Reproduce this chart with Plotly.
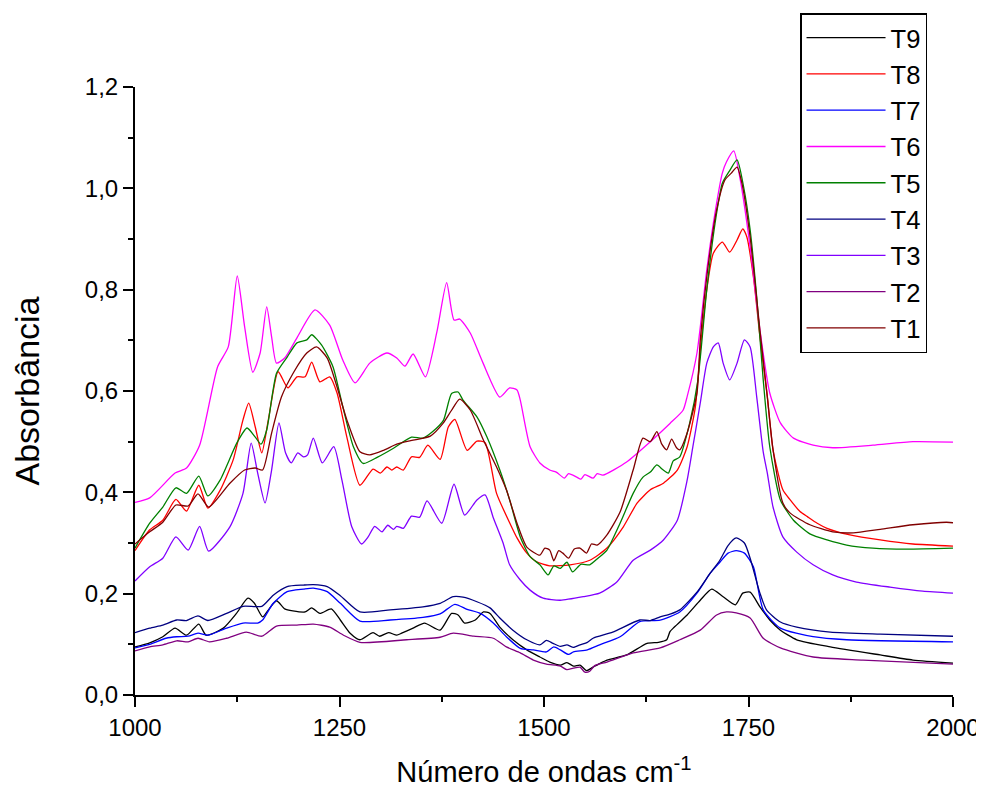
import plotly.graph_objects as go

# ---- data ----
names = ["T9", "T8", "T7", "T6", "T5", "T4", "T3", "T2", "T1"]
colors = ["#000000", "#FF0000", "#0000FF", "#FF00FF", "#008000",
          "#000080", "#8000FF", "#800080", "#800000"]

t9_x = [1000, 1018, 1034, 1049, 1063, 1078, 1087, 1108, 1124, 1138, 1146, 1156, 1164, 1173, 1183, 1193, 1208, 1216, 1226, 1240, 1251, 1263, 1275, 1291, 1299, 1310, 1320, 1326, 1340, 1354, 1373, 1387, 1395, 1403, 1416, 1426, 1434, 1446, 1462, 1479, 1495, 1507, 1520, 1528, 1536, 1544, 1552, 1560, 1568, 1577, 1601, 1626, 1640, 1650, 1654, 1658, 1675, 1691, 1705, 1719, 1734, 1743, 1752, 1764, 1776, 1789, 1809, 1850, 1911, 1951, 2000]
t9_y = [.095, .103, .115, .132, .118, .140, .118, .132, .161, .191, .181, .154, .170, .186, .170, .166, .164, .172, .161, .170, .148, .122, .109, .123, .116, .123, .118, .122, .132, .142, .128, .161, .158, .142, .148, .164, .161, .134, .109, .089, .075, .065, .059, .064, .057, .059, .048, .055, .062, .069, .079, .102, .104, .109, .125, .132, .158, .187, .209, .194, .178, .201, .203, .174, .148, .128, .109, .095, .079, .069, .063]

t8_x = [1000, 1018, 1034, 1050, 1063, 1078, 1089, 1104, 1120, 1132, 1139, 1147, 1155, 1163, 1175, 1187, 1198, 1208, 1216, 1226, 1238, 1247, 1259, 1275, 1291, 1300, 1308, 1314, 1320, 1328, 1338, 1348, 1358, 1373, 1383, 1391, 1406, 1418, 1428, 1442, 1458, 1467, 1479, 1491, 1507, 1532, 1556, 1577, 1597, 1614, 1630, 1646, 1663, 1675, 1685, 1691, 1699, 1707, 1718, 1727, 1736, 1743, 1748, 1756, 1764, 1773, 1780, 1792, 1801, 1813, 1822, 1834, 1846, 1874, 1911, 1951, 2000]
t8_y = [.285, .326, .345, .386, .363, .414, .369, .404, .464, .543, .576, .529, .478, .543, .638, .606, .628, .628, .657, .618, .628, .596, .509, .414, .446, .438, .450, .444, .450, .444, .470, .469, .493, .465, .529, .544, .483, .501, .498, .398, .340, .310, .280, .263, .255, .257, .266, .290, .332, .379, .405, .418, .444, .490, .568, .680, .800, .872, .894, .874, .898, .920, .904, .825, .707, .589, .484, .405, .385, .362, .352, .339, .329, .316, .306, .298, .294]

t7_x = [1000, 1018, 1038, 1051, 1065, 1077, 1089, 1112, 1132, 1150, 1156, 1169, 1186, 1206, 1218, 1235, 1251, 1275, 1312, 1352, 1373, 1391, 1406, 1422, 1438, 1454, 1471, 1487, 1503, 1512, 1520, 1530, 1536, 1553, 1568, 1593, 1617, 1642, 1666, 1687, 1703, 1715, 1725, 1735, 1745, 1756, 1768, 1789, 1829, 1870, 2000]
t7_y = [.093, .100, .112, .115, .116, .122, .118, .132, .142, .142, .148, .181, .204, .209, .211, .204, .181, .146, .148, .153, .160, .179, .169, .161, .142, .115, .092, .089, .085, .095, .089, .080, .085, .089, .099, .115, .145, .148, .164, .201, .240, .262, .280, .285, .280, .253, .168, .132, .115, .109, .105]

t6_x = [1000, 1018, 1049, 1063, 1079, 1101, 1114, 1125, 1134, 1144, 1153, 1161, 1167, 1173, 1183, 1198, 1220, 1238, 1254, 1269, 1287, 1308, 1320, 1330, 1340, 1355, 1369, 1381, 1390, 1397, 1410, 1425, 1446, 1458, 1467, 1471, 1483, 1495, 1507, 1515, 1525, 1530, 1540, 1545, 1550, 1560, 1565, 1572, 1601, 1630, 1654, 1670, 1675, 1687, 1699, 1709, 1718, 1723, 1732, 1740, 1752, 1764, 1776, 1789, 1805, 1829, 1853, 1902, 1951, 2000]
t6_y = [.380, .389, .438, .448, .493, .648, .687, .827, .727, .637, .675, .766, .707, .655, .665, .705, .760, .730, .661, .616, .655, .675, .665, .649, .673, .628, .716, .814, .740, .742, .714, .657, .588, .606, .602, .582, .490, .458, .444, .440, .428, .437, .430, .426, .435, .428, .437, .434, .460, .500, .536, .562, .589, .675, .839, .951, 1.030, 1.052, 1.074, 1.016, .884, .720, .596, .537, .507, .493, .488, .493, .500, .499]

t5_x = [1000, 1018, 1034, 1050, 1063, 1078, 1089, 1104, 1125, 1137, 1147, 1154, 1161, 1173, 1186, 1198, 1210, 1216, 1228, 1242, 1254, 1267, 1279, 1296, 1316, 1338, 1352, 1364, 1377, 1387, 1395, 1401, 1418, 1430, 1446, 1458, 1471, 1483, 1495, 1505, 1512, 1520, 1528, 1535, 1545, 1556, 1566, 1577, 1593, 1609, 1621, 1630, 1638, 1645, 1652, 1658, 1666, 1678, 1688, 1699, 1709, 1718, 1727, 1736, 1744, 1752, 1760, 1768, 1776, 1789, 1805, 1825, 1846, 1870, 1902, 1943, 2000]
t5_y = [.290, .339, .371, .409, .398, .432, .393, .424, .499, .527, .509, .495, .523, .635, .667, .695, .701, .711, .691, .648, .569, .490, .457, .469, .487, .509, .507, .520, .542, .595, .598, .582, .549, .510, .444, .385, .312, .273, .257, .237, .255, .250, .262, .243, .258, .257, .270, .286, .339, .398, .430, .440, .454, .445, .438, .462, .470, .536, .620, .800, .930, 1.010, 1.035, 1.056, 1.003, .918, .786, .622, .490, .385, .345, .318, .306, .296, .290, .288, .290]

t4_x = [1000, 1018, 1034, 1051, 1063, 1077, 1089, 1112, 1132, 1155, 1169, 1186, 1206, 1218, 1235, 1251, 1275, 1312, 1352, 1373, 1389, 1401, 1418, 1434, 1446, 1462, 1479, 1495, 1503, 1511, 1520, 1528, 1536, 1544, 1553, 1560, 1584, 1617, 1630, 1642, 1655, 1666, 1687, 1703, 1715, 1725, 1735, 1745, 1752, 1764, 1772, 1789, 1809, 1850, 1911, 2000]
t4_y = [.123, .132, .138, .148, .147, .156, .147, .161, .175, .175, .197, .214, .217, .218, .214, .196, .164, .168, .174, .181, .194, .193, .184, .172, .152, .128, .109, .099, .108, .102, .096, .099, .094, .099, .104, .112, .124, .148, .147, .154, .160, .168, .203, .240, .266, .295, .310, .300, .270, .201, .168, .144, .134, .124, .120, .116]

t3_x = [1000, 1018, 1034, 1050, 1065, 1079, 1090, 1116, 1132, 1142, 1150, 1159, 1167, 1176, 1184, 1191, 1199, 1206, 1211, 1218, 1229, 1243, 1253, 1265, 1277, 1285, 1293, 1302, 1309, 1316, 1320, 1328, 1338, 1348, 1357, 1375, 1390, 1403, 1418, 1428, 1438, 1450, 1458, 1471, 1483, 1499, 1520, 1548, 1568, 1589, 1609, 1630, 1646, 1663, 1675, 1682, 1691, 1699, 1707, 1713, 1719, 1727, 1736, 1745, 1752, 1760, 1768, 1773, 1780, 1792, 1809, 1829, 1853, 1882, 1923, 1963, 2000]
t3_y = [.225, .253, .270, .312, .286, .333, .284, .332, .398, .497, .438, .379, .444, .537, .478, .458, .478, .470, .474, .507, .458, .490, .424, .332, .298, .312, .333, .322, .335, .327, .333, .329, .353, .351, .383, .339, .416, .355, .385, .395, .350, .300, .257, .227, .207, .191, .187, .194, .201, .223, .266, .286, .306, .345, .424, .490, .576, .655, .687, .695, .655, .622, .655, .701, .687, .589, .480, .438, .371, .312, .282, .257, .237, .223, .213, .205, .201]

t2_x = [1000, 1018, 1034, 1051, 1065, 1077, 1091, 1112, 1136, 1155, 1173, 1198, 1218, 1238, 1255, 1275, 1332, 1373, 1389, 1414, 1438, 1454, 1471, 1487, 1503, 1520, 1528, 1536, 1544, 1550, 1556, 1562, 1577, 1609, 1642, 1666, 1691, 1711, 1723, 1735, 1752, 1768, 1789, 1829, 1890, 2000]
t2_y = [.087, .095, .099, .107, .105, .112, .105, .112, .124, .116, .136, .138, .140, .134, .118, .104, .109, .114, .122, .116, .112, .095, .083, .069, .061, .057, .050, .053, .055, .045, .047, .058, .065, .083, .093, .109, .128, .158, .164, .162, .152, .112, .093, .075, .069, .061]

t1_x = [1000, 1018, 1034, 1050, 1065, 1077, 1090, 1116, 1134, 1147, 1156, 1167, 1179, 1194, 1210, 1222, 1235, 1247, 1259, 1275, 1287, 1304, 1320, 1340, 1361, 1377, 1387, 1397, 1410, 1426, 1442, 1454, 1467, 1479, 1495, 1501, 1507, 1512, 1518, 1523, 1530, 1537, 1544, 1552, 1558, 1565, 1577, 1593, 1609, 1621, 1630, 1638, 1644, 1650, 1656, 1662, 1666, 1675, 1687, 1691, 1700, 1711, 1721, 1729, 1736, 1742, 1752, 1764, 1773, 1780, 1792, 1801, 1825, 1853, 1878, 1911, 1951, 1992, 2000]
t1_y = [.298, .322, .341, .375, .373, .397, .371, .418, .444, .448, .444, .517, .588, .637, .675, .687, .665, .608, .543, .480, .474, .483, .495, .503, .511, .537, .562, .584, .562, .503, .450, .405, .339, .292, .276, .290, .286, .265, .285, .280, .270, .288, .290, .280, .298, .296, .316, .361, .444, .507, .500, .520, .495, .484, .505, .488, .484, .517, .596, .700, .839, .957, 1.016, 1.030, 1.042, 1.010, .904, .720, .589, .484, .379, .359, .336, .322, .320, .327, .336, .341, .340]

series_x = [t9_x, t8_x, t7_x, t6_x, t5_x, t4_x, t3_x, t2_x, t1_x]
series_y = [t9_y, t8_y, t7_y, t6_y, t5_y, t4_y, t3_y, t2_y, t1_y]

x_ticks = [1000, 1250, 1500, 1750, 2000]
y_ticks = [0.0, 0.2, 0.4, 0.6, 0.8, 1.0, 1.2]

FONT = "Liberation Sans, Arial, sans-serif"

fig = go.Figure()
for n, c, xs, ys in zip(names, colors, series_x, series_y):
    fig.add_trace(go.Scatter(x=xs, y=ys, name=n, mode="lines",
                             line=dict(color=c, width=1.3, shape="spline", smoothing=0.6)))

# page body has an 8px margin, so the figure is sized/placed to compensate
fig.update_layout(
    width=976, height=781,
    margin=dict(l=127, r=31, t=79, b=94, autoexpand=False),
    paper_bgcolor="white", plot_bgcolor="white",
    separators=",.",
    font=dict(family=FONT, color="black"),
    showlegend=True,
    legend=dict(x=0.813, y=1.1217, xanchor="left", yanchor="top",
                bgcolor="white", bordercolor="black", borderwidth=1.5,
                font=dict(family=FONT, size=25.6, color="black"),
                itemwidth=79, tracegroupgap=0),
)
fig.update_xaxes(range=[1000, 2000], tickvals=x_ticks, ticktext=[str(v) for v in x_ticks],
                 automargin=False,
                 showgrid=False, zeroline=False, showline=True, linecolor="black", linewidth=2,
                 ticks="outside", ticklen=10, tickwidth=2, tickcolor="black",
                 tickfont=dict(family=FONT, size=24),
                 minor=dict(dtick=125, tick0=1000, ticks="outside", ticklen=5, tickwidth=2, tickcolor="black"),
                 title=dict(text="Número de ondas cm<sup>-1</sup>", font=dict(family=FONT, size=29), standoff=22))
fig.update_yaxes(range=[0, 1.2], tickvals=y_ticks, tickformat=".1f",
                 automargin=False,
                 showgrid=False, zeroline=False, showline=True, linecolor="black", linewidth=2,
                 ticks="outside", ticklen=10, tickwidth=2, tickcolor="black",
                 tickfont=dict(family=FONT, size=24),
                 minor=dict(dtick=0.1, tick0=0, ticks="outside", ticklen=5, tickwidth=2, tickcolor="black"),
                 title=dict(text="Absorbância", font=dict(family=FONT, size=34), standoff=38))

fig.write_html("out.html")
